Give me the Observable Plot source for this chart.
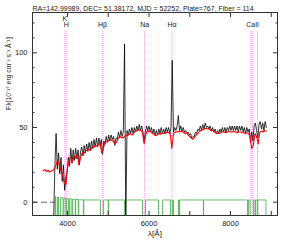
<!DOCTYPE html>
<html>
<head>
<meta charset="utf-8">
<script src="https://cdn.jsdelivr.net/npm/d3@7"></script>
<script src="https://cdn.jsdelivr.net/npm/@observablehq/plot@0.6"></script>
<style>
  html, body { margin: 0; padding: 0; background: #fff; }
  #chart svg { display: block; }
</style>
</head>
<body>
<div id="chart"></div>
<script>
const titleText = "RA=142.99989, DEC= 51.38172, MJD = 52252, Plate=767, Fiber = 114";
const xLabel = "λ[Å]";
const yLabel = "F\u03BB[10\u207B\u00B9\u2077 erg cm\u207B\u00B2 s\u207B\u00B9 Å\u207B\u00B9]";

// observed spectrum (black), sampled every 30 Å from 3660 Å
const blackStart = 3660, blackStep = 30;
const blackFlux = [
  -12, 24, 46, 22, 33, 19, 30, 14, 25, 8, 17, 20,
  30, 24, 36, 26, 35, 28, 36, 29, 35, 25,
  34, 37, 31, 38, 33, 39, 34, 40, 35, 41,
  36, 42, 37, 43, 37, 43, 38, 42, 32, 41,
  39, 44, 40, 45, 41, 45, 42, 44, 38, 43,
  42, 47, 43, 48, 44, 47,
  106, -12,
  48, 45, 49, 46, 50, 46, 50, 47, 51, 48,
  52, 48, 51, 47, 41, 47, 51, 48, 51, 47,
  50, 46, 49, 45, 48, 45, 49, 46, 50, 46,
  49, 46, 50, 47, 50, 46, 50, 95, 47, 50,
  48, 51, 58, 48, 51, 47, 50, 47, 48, 46,
  47, 45, 46, 43, 44, 44, 47, 46, 49, 48,
  51, 48, 52, 49, 53, 50, 51, 49, 51, 48,
  50, 47, 49, 46, 48, 46, 49, 47, 50, 47,
  50, 47, 50, 48, 51, 48, 51, 48, 51, 48,
  51, 47, 51, 48, 51, 47, 50, 46, 50, 47,
  49, 40, 47, 41, 51, 53, 48, 43, 52, 54,
  49, 53, 48, 54, 50
];

// model spectrum (red), sampled every 40 Å from 3400 Å
const redStart = 3400, redStep = 40;
const redFlux = [
  21, 21.8, 20.6, 21.4, 20.2, 20.8, 21.2, 22.5, 25, 28.5, 25, 21, 18, 13, 11.5, 23, 28, 30.5, 27, 31,
  29.5, 32, 25, 30, 33, 32.5, 34, 35, 35.5, 34.5, 37, 36.5, 38, 37.5, 39, 38.5, 33, 36, 40, 40.5,
  41, 42, 41.5, 41, 39, 40, 42.5, 44, 43.5, 43, 44, 45, 44.5, 46, 45.5, 45, 47, 47.5, 48, 48.5,
  48, 47, 39, 45, 48, 47, 47.5, 46, 45.5, 44.5, 45, 46, 45.5, 46.5, 46, 46, 47, 46.5, 46, 36,
  46, 47, 47, 47.5, 47, 47.5, 47, 46, 46.5, 45, 44, 43, 42, 43.5, 45, 46, 47.5, 48, 48.5, 49,
  49.5, 49, 49, 48, 48, 47, 46.5, 46, 46, 46.5, 47, 47, 46.5, 47, 47.5, 47, 47, 47.5, 47, 46.5,
  47, 47, 46.5, 46.5, 46, 46.5, 46, 44, 36, 38, 46, 44, 39, 47, 47.5, 47, 48, 47.5
];

// mask / error line (green): masked wavelength intervals and level of each good segment
const greenStart = 3700, greenEnd = 8870;
const maskStart = [3712, 3779, 3890, 3960, 4025, 4090, 4190, 4265, 4390, 4810, 5000, 5395, 5840, 6233, 6528, 6601, 6745, 7335, 8417, 8480, 8600, 8655];
const maskEnd   = [3755, 3828, 3910, 3975, 4050, 4123, 4200, 4275, 4400, 4883, 5010, 5425, 5914, 6331, 6577, 6724, 6752, 7340, 8440, 8560, 8613, 8670];
const greenLevel = [3.8, 3.4, 3.0, 2.7, 2.4, 2.2, 2.0, 1.8, 1.6, 1.5, 1.5, 1.5, 1.5, 1.5, 1.5, 1.5, 1.5, 1.5, 1.5, 1.5, 1.5, 1.5, 1.5];
const maskFloor = -15;

// spectral line markers
const lineLambda = [3934, 3969, 4861, 5893, 6563, 8498, 8542, 8662];
const labelNames = ["H", "H\u03B2", "Na", "H\u03B1", "CaII"];
const labelLambda = [3969, 4861, 5893, 6563, 8542];
const kName = ["K"];
const kLambda = [3934];
const labelLevel = 119, kLevel = 122.8, markerTop = 114;

// axis ticks
const xTicks = [4000, 5000, 6000, 7000, 8000, 9000];
const xTickLabels = [4000, 6000, 8000];
const yMinorTicks = [10, 20, 30, 40, 60, 70, 80, 90, 110, 120];
const yMajorTicks = [0, 50, 100];

// build tables
const black = blackFlux.map((f, i) => ({lambda: blackStart + i * blackStep, flux: f}));
const red = redFlux.map((f, i) => ({lambda: redStart + i * redStep, flux: f}));
const green = [{lambda: greenStart, flux: maskFloor}, {lambda: greenStart, flux: greenLevel[0]}];
maskStart.forEach((s, i) => {
  green.push({lambda: s, flux: greenLevel[i]});
  green.push({lambda: s, flux: maskFloor});
  green.push({lambda: maskEnd[i], flux: maskFloor});
  green.push({lambda: maskEnd[i], flux: greenLevel[i + 1]});
});
green.push({lambda: greenEnd, flux: greenLevel[greenLevel.length - 1]});
green.push({lambda: greenEnd, flux: maskFloor});

const font = "Liberation Sans, Arial, sans-serif";

const chart = Plot.plot({
  width: 293,
  height: 243,
  marginLeft: 32,
  marginRight: 16,
  marginTop: 12,
  marginBottom: 28,
  style: {fontFamily: font, fontSize: "7.5px", background: "#fff", color: "#222"},
  x: {domain: [3141, 9153]},
  y: {domain: [-8.9, 127]},
  marks: [
    Plot.ruleX(lineLambda, {y1: maskFloor, y2: markerTop, stroke: "#ff80ff", strokeWidth: 1, strokeDasharray: "1,1", clip: true}),
    Plot.ruleY([0], {x1: 3141, x2: greenStart, stroke: "#444", strokeDasharray: "6,3", strokeWidth: 0.8}),
    Plot.line(green, {x: "lambda", y: "flux", stroke: "#4db34d", strokeWidth: 1, strokeOpacity: 0.85, clip: true}),
    Plot.line(black, {x: "lambda", y: "flux", stroke: "#000", strokeWidth: 0.8, clip: true}),
    Plot.line(red, {x: "lambda", y: "flux", stroke: "#ff0000", strokeWidth: 1.1, clip: true}),
    Plot.text(labelNames, {x: (d, i) => labelLambda[i], y: labelLevel, text: d => d, fontSize: 7, fill: "#222"}),
    Plot.text(kName, {x: (d, i) => kLambda[i], y: kLevel, text: d => d, fontSize: 7, fill: "#222"}),
    Plot.frame({stroke: "#333", strokeWidth: 1}),
    // inward ticks
    Plot.axisX({anchor: "bottom", ticks: xTicks, tickSize: -4, text: null, label: null, stroke: "#333"}),
    Plot.axisX({anchor: "top", ticks: xTicks, tickSize: -4, text: null, label: null, stroke: "#333"}),
    Plot.axisX({anchor: "bottom", ticks: xTickLabels, tickSize: 0, tickPadding: 5, tickFormat: d => String(d), label: null, fontSize: 7.5}),
    Plot.axisY({anchor: "left", ticks: yMinorTicks, tickSize: -2.5, text: null, label: null, stroke: "#333"}),
    Plot.axisY({anchor: "left", ticks: yMajorTicks, tickSize: -5, text: null, label: null, stroke: "#333"}),
    Plot.axisY({anchor: "right", ticks: yMinorTicks, tickSize: -2.5, text: null, label: null, stroke: "#333"}),
    Plot.axisY({anchor: "right", ticks: yMajorTicks, tickSize: -5, text: null, label: null, stroke: "#333"}),
    Plot.axisY({anchor: "left", ticks: yMajorTicks, tickSize: 0, tickPadding: 5, tickFormat: d => String(d), label: null, fontSize: 7.5}),
    Plot.text([titleText], {frameAnchor: "top-left", dy: -6, textAnchor: "start", fontSize: 7, fill: "#222"}),
    Plot.text([xLabel], {frameAnchor: "bottom", dy: 20, fontSize: 8, fill: "#222"}),
    Plot.text([yLabel], {frameAnchor: "left", dx: -24, dy: -4, rotate: -90, fontSize: 6.8, fill: "#222"})
  ]
});
document.getElementById("chart").appendChild(chart);
</script>
</body>
</html>
